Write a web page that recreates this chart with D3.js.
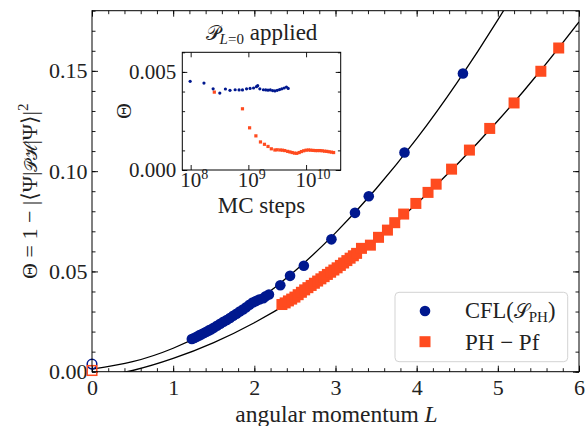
<!DOCTYPE html>
<html>
<head>
<meta charset="utf-8">
<script src="https://cdn.jsdelivr.net/npm/d3@7"></script>
<style>
  body { margin: 0; background: #fff; }
  svg text { font-family: "Liberation Serif", "DejaVu Serif", serif; fill: #222; }
</style>
</head>
<body>
<svg id="chart" width="587" height="426"></svg>
<script>
// main panel: CFL(S_PH) points
const cflL = [1.23, 1.26, 1.29, 1.32, 1.35, 1.38, 1.41, 1.44, 1.47, 1.50, 1.54, 1.58, 1.62, 1.66, 1.70,
  1.74, 1.78, 1.82, 1.86, 1.90, 1.94, 1.98, 2.02, 2.06, 2.11, 2.14, 2.18, 2.32, 2.44, 2.61, 2.95, 3.24, 3.41, 3.85, 4.57]
const cflTheta = [0.0163, 0.0168, 0.0174, 0.0181, 0.0187, 0.0193, 0.0199, 0.0206, 0.0212, 0.0219, 0.0229, 0.0239, 0.0249, 0.0258, 0.0268,
  0.0279, 0.0289, 0.0300, 0.0310, 0.0321, 0.0334, 0.0345, 0.0352, 0.0360, 0.0366, 0.0376, 0.0385, 0.0431, 0.0478, 0.0528, 0.0660, 0.0792, 0.0875, 0.1093, 0.1487]

// main panel: PH-Pf points
const phL = [2.34, 2.38, 2.42, 2.46, 2.50, 2.54, 2.58, 2.62, 2.66, 2.70, 2.74, 2.78, 2.82, 2.86, 2.90, 2.94, 2.98,
  3.02, 3.06, 3.10, 3.14, 3.18, 3.22, 3.26, 3.32, 3.43, 3.53, 3.64, 3.73, 3.84, 3.99, 4.14, 4.24, 4.43, 4.65, 4.90, 5.20, 5.53, 5.75]
const phTheta = [0.0335, 0.0343, 0.0353, 0.0362, 0.0372, 0.0384, 0.0396, 0.0408, 0.0419, 0.0430, 0.0441, 0.0452, 0.0463, 0.0474, 0.0485, 0.0496, 0.0507,
  0.0518, 0.0530, 0.0542, 0.0554, 0.0566, 0.0578, 0.0590, 0.0615, 0.0631, 0.0670, 0.0706, 0.0743, 0.0786, 0.0839, 0.0894, 0.0935, 0.1010, 0.1105, 0.1213, 0.1340, 0.1498, 0.1614]

// open markers at L = 0
const openL = [0]
const cflOpen = [0.0038]
const phOpen = [0.0006]

// fitted curves
const fitL = [0, 0.5, 1, 1.5, 2, 2.5, 3, 3.5, 4, 4.5, 5, 5.5, 6]
const fitCfl = [0.0013, 0.0050, 0.0117, 0.0215, 0.0343, 0.0502, 0.0692, 0.0912, 0.1162, 0.1443, 0.1754, 0.2096, 0.2468]
const fitPh = [-0.0034, 0.0006, 0.0066, 0.0145, 0.0244, 0.0363, 0.0501, 0.0659, 0.0837, 0.1034, 0.1251, 0.1488, 0.1744]

const xTicks = [0, 1, 2, 3, 4, 5, 6]
const yTicks = [0, 0.05, 0.10, 0.15]

// inset: Theta vs MC steps with P_{L=0} applied
const mcCflSteps = [9.8e7, 1.7e8, 2.45e8, 3.2e8, 4.0e8, 4.8e8, 5.9e8, 6.9e8, 7.9e8, 9.3e8, 1.07e9, 1.23e9, 1.38e9, 1.45e9, 1.58e9,
  1.82e9, 2.0e9, 2.19e9, 2.4e9, 2.63e9, 2.88e9, 3.16e9, 3.47e9, 3.8e9, 4.17e9, 4.57e9, 4.9e9]
const mcCflTheta = [0.00452, 0.00443, 0.00414, 0.00392, 0.00413, 0.00406, 0.00409, 0.00408, 0.00408, 0.00414, 0.00416, 0.00418, 0.00425, 0.00430, 0.00414,
  0.00409, 0.00408, 0.00407, 0.00408, 0.00405, 0.00403, 0.00406, 0.00410, 0.00414, 0.00418, 0.00423, 0.00416]
const mcPhSteps = [2.57e8, 7.9e8, 1.05e9, 1.35e9, 1.62e9, 1.9e9, 2.19e9, 2.5e9, 2.88e9, 3.16e9, 3.55e9, 3.9e9, 4.27e9, 4.79e9,
  5.25e9, 5.75e9, 6.3e9, 6.9e9, 7.6e9, 8.3e9, 9.1e9, 1.0e10, 1.1e10, 1.2e10, 1.32e10, 1.45e10, 1.58e10, 1.74e10, 1.9e10,
  2.09e10, 2.29e10, 2.5e10, 2.75e10, 3.0e10]
const mcPhTheta = [0.00397, 0.00312, 0.00215, 0.00174, 0.00143, 0.00131, 0.00120, 0.00108, 0.00102, 0.00103, 0.00102, 0.00101, 0.00099, 0.00095,
  0.00092, 0.00089, 0.00086, 0.00085, 0.00089, 0.00094, 0.00098, 0.00101, 0.00102, 0.00101, 0.00100, 0.00099, 0.00099, 0.00099, 0.00098,
  0.00096, 0.00095, 0.00093, 0.00091, 0.00089]
const insetXTicks = [1e8, 1e9, 1e10]
const insetYTicks = [0, 0.005]

const blue = "#00188f"
const orange = "#ff4b1f"

const svg = d3.select("#chart")
const plot = { left: 92, right: 579, top: 10.7, bottom: 371.7 }

const x = d3.scaleLinear().domain([0, 6]).range([plot.left, plot.right])
const y = d3.scaleLinear().domain([0, 0.18]).range([plot.bottom, plot.top])

svg.append("clipPath").attr("id", "clip")
  .append("rect")
  .attr("x", plot.left).attr("y", plot.top)
  .attr("width", plot.right - plot.left).attr("height", plot.bottom - plot.top)

// ticks on all four sides, pointing in
function ticks(g, axis, size) {
  g.call(axis)
  g.select(".domain").remove()
  g.selectAll("line").attr("stroke", "#000").attr("stroke-width", 0.9)
  g.selectAll("text").attr("font-size", size || 22).attr("fill", "#222").attr("font-family", '"Liberation Serif", serif')
}
const xMinor = d3.range(0, 6.01, 0.2)
const yMinor = d3.range(0, 0.1801, 0.01)

svg.append("g").attr("transform", `translate(0,${plot.bottom})`)
  .call(ticks, d3.axisBottom(x).tickValues(xMinor).tickSize(-3.5).tickFormat(""))
svg.append("g").attr("transform", `translate(0,${plot.bottom})`)
  .call(ticks, d3.axisBottom(x).tickValues(xTicks).tickSize(-6).tickPadding(8).tickFormat(d3.format("d")))
svg.append("g").attr("transform", `translate(0,${plot.top})`)
  .call(ticks, d3.axisTop(x).tickValues(xMinor).tickSize(-3.5).tickFormat(""))
svg.append("g").attr("transform", `translate(0,${plot.top})`)
  .call(ticks, d3.axisTop(x).tickValues(xTicks).tickSize(-6).tickFormat(""))
svg.append("g").attr("transform", `translate(${plot.left},0)`)
  .call(ticks, d3.axisLeft(y).tickValues(yMinor).tickSize(-3.5).tickFormat(""))
svg.append("g").attr("transform", `translate(${plot.left},0)`)
  .call(ticks, d3.axisLeft(y).tickValues(yTicks).tickSize(-6).tickPadding(4.5).tickFormat(d3.format(".2f")))
svg.append("g").attr("transform", `translate(${plot.right},0)`)
  .call(ticks, d3.axisRight(y).tickValues(yMinor).tickSize(-3.5).tickFormat(""))
svg.append("g").attr("transform", `translate(${plot.right},0)`)
  .call(ticks, d3.axisRight(y).tickValues(yTicks).tickSize(-6).tickFormat(""))

// fit lines
const fitLine = vals => d3.line()
  .x((d, i) => x(fitL[i]))
  .y(d => y(d))
  .curve(d3.curveNatural)(vals)
svg.append("path").attr("d", fitLine(fitCfl)).attr("clip-path", "url(#clip)")
  .attr("fill", "none").attr("stroke", "#000").attr("stroke-width", 1.3)
svg.append("path").attr("d", fitLine(fitPh)).attr("clip-path", "url(#clip)")
  .attr("fill", "none").attr("stroke", "#000").attr("stroke-width", 1.3)

// data markers
svg.append("g").selectAll("rect").data(phL).join("rect")
  .attr("x", (d, i) => x(d) - 5.5).attr("y", (d, i) => y(phTheta[i]) - 5.5)
  .attr("width", 11).attr("height", 11).attr("fill", orange)
svg.append("g").selectAll("circle").data(cflL).join("circle")
  .attr("cx", d => x(d)).attr("cy", (d, i) => y(cflTheta[i])).attr("r", 5.3).attr("fill", blue)

svg.append("g").selectAll("circle").data(openL).join("circle")
  .attr("cx", d => x(d)).attr("cy", (d, i) => y(cflOpen[i])).attr("r", 4.8)
  .attr("fill", "none").attr("stroke", blue).attr("stroke-width", 1.5)
svg.append("g").selectAll("rect").data(openL).join("rect")
  .attr("x", d => x(d) - 4.8).attr("y", (d, i) => y(phOpen[i]) - 4.8)
  .attr("width", 9.6).attr("height", 9.6)
  .attr("fill", "none").attr("stroke", orange).attr("stroke-width", 1.5)

// frame
svg.append("rect").attr("x", plot.left).attr("y", plot.top)
  .attr("width", plot.right - plot.left).attr("height", plot.bottom - plot.top)
  .attr("fill", "none").attr("stroke", "#000").attr("stroke-width", 1)

// axis labels
const xl = svg.append("text").attr("x", (plot.left + plot.right) / 2 + 1).attr("y", 422)
  .attr("text-anchor", "middle").attr("font-size", 23.5)
xl.append("tspan").text("angular momentum ")
xl.append("tspan").attr("font-style", "italic").text("L")

const yl = svg.append("text").attr("transform", `translate(37,${(plot.top + plot.bottom) / 2}) rotate(-90)`)
  .attr("text-anchor", "middle").attr("font-size", 22)
yl.append("tspan").text("Θ = 1 − |⟨Ψ|")
yl.append("tspan").attr("font-size", 17).text("𝒫ℋ")
yl.append("tspan").text("|Ψ⟩|")
yl.append("tspan").attr("font-size", 15).attr("dy", -9).text("2")
// squeeze the label to the height it has in the picture
const ylLen = yl.node().getComputedTextLength()
if (ylLen > 220) yl.attr("textLength", 220).attr("lengthAdjust", "spacingAndGlyphs")

// legend
const lg = svg.append("g")
lg.append("rect").attr("x", 395).attr("y", 292.3).attr("width", 172.7).attr("height", 69.4)
  .attr("rx", 4).attr("fill", "#fff").attr("fill-opacity", 0.8).attr("stroke", "#d3d3d3")
lg.append("circle").attr("cx", 425).attr("cy", 311).attr("r", 5.3).attr("fill", blue)
lg.append("rect").attr("x", 419.5).attr("y", 336.2).attr("width", 11).attr("height", 11).attr("fill", orange)
const l1 = lg.append("text").attr("x", 465).attr("y", 318).attr("font-size", 22.5)
l1.append("tspan").text("CFL(")
l1.append("tspan").attr("font-size", 20).text("𝒮")
l1.append("tspan").attr("font-size", 15).attr("dy", 4).text("PH")
l1.append("tspan").attr("dy", -4).text(")")
lg.append("text").attr("x", 465).attr("y", 350).attr("font-size", 23).text("PH − Pf")

// inset
const ins = { left: 182.3, right: 340.7, top: 52.3, bottom: 170 }
const ix = d3.scaleLog().domain([Math.pow(10, 7.855), Math.pow(10, 10.6)]).range([ins.left, ins.right])
const iy = d3.scaleLinear().domain([0, 0.006]).range([ins.bottom, ins.top])

svg.append("rect").attr("x", ins.left).attr("y", ins.top)
  .attr("width", ins.right - ins.left).attr("height", ins.bottom - ins.top).attr("fill", "#fff")

const iyMinor = d3.range(0, 0.00601, 0.001)
svg.append("g").attr("transform", `translate(0,${ins.bottom})`)
  .call(ticks, d3.axisBottom(ix).tickValues(insetXTicks).tickSize(-5).tickFormat(""))
svg.append("g").attr("transform", `translate(0,${ins.top})`)
  .call(ticks, d3.axisTop(ix).tickValues(insetXTicks).tickSize(-5).tickFormat(""))
svg.append("g").attr("transform", `translate(${ins.left},0)`)
  .call(ticks, d3.axisLeft(iy).tickValues(iyMinor).tickSize(-2.8).tickFormat(""))
svg.append("g").attr("transform", `translate(${ins.left},0)`)
  .call(ticks, d3.axisLeft(iy).tickValues(insetYTicks).tickSize(-5).tickPadding(6).tickFormat(d3.format(".3f")), 21)
svg.append("g").attr("transform", `translate(${ins.right},0)`)
  .call(ticks, d3.axisRight(iy).tickValues(iyMinor).tickSize(-2.8).tickFormat(""))
svg.append("g").attr("transform", `translate(${ins.right},0)`)
  .call(ticks, d3.axisRight(iy).tickValues(insetYTicks).tickSize(-5).tickFormat(""))

// 10^n labels, the "10" centred on the tick
svg.append("g").selectAll("text").data(insetXTicks).join("text")
  .attr("x", d => ix(d) - 10.5).attr("y", 187).attr("font-size", 21)
  .each(function (d) {
    const t = d3.select(this)
    t.append("tspan").text("10")
    t.append("tspan").attr("font-size", 14).attr("dy", -8).text(Math.round(Math.log10(d)))
  })

svg.append("g").selectAll("rect").data(mcPhSteps).join("rect")
  .attr("x", d => ix(d) - 1.6).attr("y", (d, i) => iy(mcPhTheta[i]) - 1.6)
  .attr("width", 3.2).attr("height", 3.2).attr("fill", orange)
svg.append("g").selectAll("circle").data(mcCflSteps).join("circle")
  .attr("cx", d => ix(d)).attr("cy", (d, i) => iy(mcCflTheta[i])).attr("r", 1.6).attr("fill", blue)

svg.append("rect").attr("x", ins.left).attr("y", ins.top)
  .attr("width", ins.right - ins.left).attr("height", ins.bottom - ins.top)
  .attr("fill", "none").attr("stroke", "#000").attr("stroke-width", 1)

svg.append("text").attr("x", (ins.left + ins.right) / 2).attr("y", 213)
  .attr("text-anchor", "middle").attr("font-size", 23).text("MC steps")
svg.append("text").attr("transform", `translate(131,${(ins.top + ins.bottom) / 2}) rotate(-90)`)
  .attr("text-anchor", "middle").attr("font-size", 22).text("Θ")

const it = svg.append("text").attr("x", (ins.left + ins.right) / 2).attr("y", 40)
  .attr("text-anchor", "middle").attr("font-size", 23)
it.append("tspan").attr("font-size", 20).text("𝒫")
it.append("tspan").attr("font-size", 15).attr("dy", 4).attr("font-style", "italic").text("L")
it.append("tspan").attr("font-size", 15).text("=0")
it.append("tspan").attr("dy", -4).text(" applied")
</script>
</body>
</html>
